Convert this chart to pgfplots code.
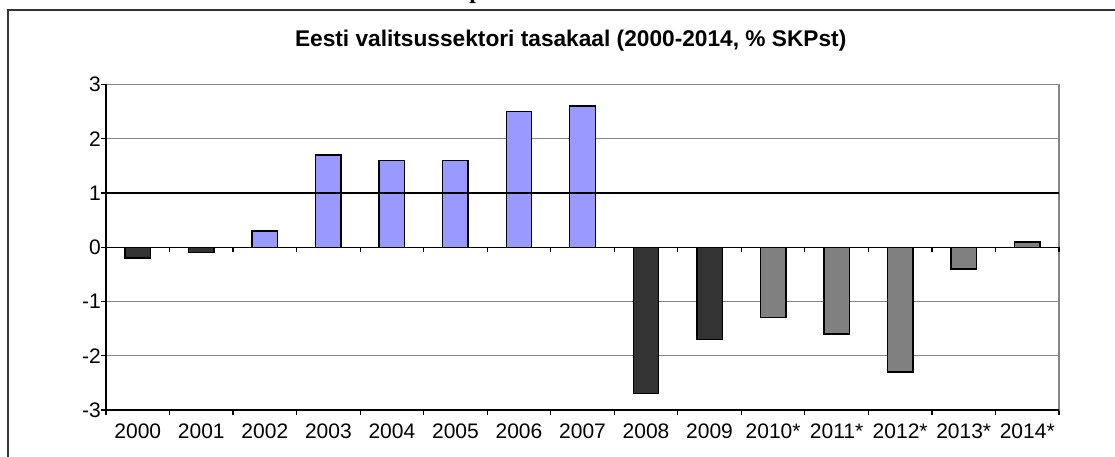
\documentclass[border=0pt]{standalone}
\usepackage{fontspec}
\setmainfont{Liberation Sans}
\newfontfamily\serifb{Liberation Serif}
\usepackage{pgfplots}
\pgfplotsset{compat=1.18}
\definecolor{lav}{HTML}{9999FF}
\definecolor{dk}{HTML}{333333}
\definecolor{md}{HTML}{808080}
\definecolor{gridc}{HTML}{868686}
\begin{document}
\begin{tikzpicture}[x=1pt,y=1pt]
\useasboundingbox (0,0) rectangle (1115,457);
\begin{scope}
\clip (0,0) rectangle (1115,457);
\node[anchor=base, inner sep=0pt, font=\serifb\bfseries\fontsize{24}{28}\selectfont] at (476,458) {p};
\draw[line width=1.6pt, color=dk] (8,-5) -- (8,447) -- (1120,447);
\end{scope}
\node[anchor=base, inner sep=0pt, font=\bfseries\fontsize{22.7}{26}\selectfont] at (570.7,410.3) {Eesti valitsussektori tasakaal (2000-2014, \% SKPst)};
\begin{axis}[
  at={(106pt,47pt)}, anchor=south west,
  scale only axis, width=953pt, height=325.5pt,
  xmin=-0.5, xmax=14.5, ymin=-3, ymax=3,
  xtick={0,...,14},
  xticklabels={2000,2001,2002,2003,2004,2005,2006,2007,2008,2009,2010*,2011*,2012*,2013*,2014*},
  minor xtick={-0.5,0.5,...,14.5},
  xtick pos=left, ytick pos=left,
  tick align=outside,
  major x tick style={draw=none},
  x tick style={line width=1.2pt, black},
  minor tick length=5pt,
  ytick={-3,-2,-1,0,1,2,3},
  yticklabels={-3,-2,-1,0,1,2,3},
  y tick style={line width=1.2pt, black},
  major tick length=5pt,
  ymajorgrids,
  grid style={line width=1.3pt, gridc},
  axis line style={line width=1.3pt, gridc},
  xticklabel style={font=\fontsize{21}{25}\selectfont, inner sep=0pt, anchor=north, yshift=-9pt},
  yticklabel style={font=\fontsize{21}{25}\selectfont, inner sep=0pt, anchor=east},
  /pgf/number format/assume math mode=true,
  ybar, bar width=25.5pt,
  clip=false,
]
\addplot[ybar, bar shift=0pt, fill=dk, draw=black, line width=1.4pt] coordinates {(0,-0.2) (1,-0.1) (8,-2.7) (9,-1.7)};
\addplot[ybar, bar shift=0pt, fill=lav, draw=black, line width=1.4pt] coordinates {(2,0.3) (3,1.7) (4,1.6) (5,1.6) (6,2.5) (7,2.6)};
\addplot[ybar, bar shift=0pt, fill=md, draw=black, line width=1.4pt] coordinates {(10,-1.3) (11,-1.6) (12,-2.3) (13,-0.4) (14,0.1)};
\draw[black, line width=1.3pt] (axis cs:-0.5,1) -- (axis cs:14.5,1);
\draw[black, line width=1.4pt] (axis cs:-0.5,0) -- (axis cs:14.5,0);
\pgfplotsinvokeforeach{0,...,15}{\draw[black, line width=1.2pt] (axis cs:#1-0.5,0) -- ++(0pt,-4.5pt);}
\draw[black, line width=1.4pt] (rel axis cs:0,1) -- (rel axis cs:0,0) -- (rel axis cs:1,0);
\end{axis}
\end{tikzpicture}
\end{document}
